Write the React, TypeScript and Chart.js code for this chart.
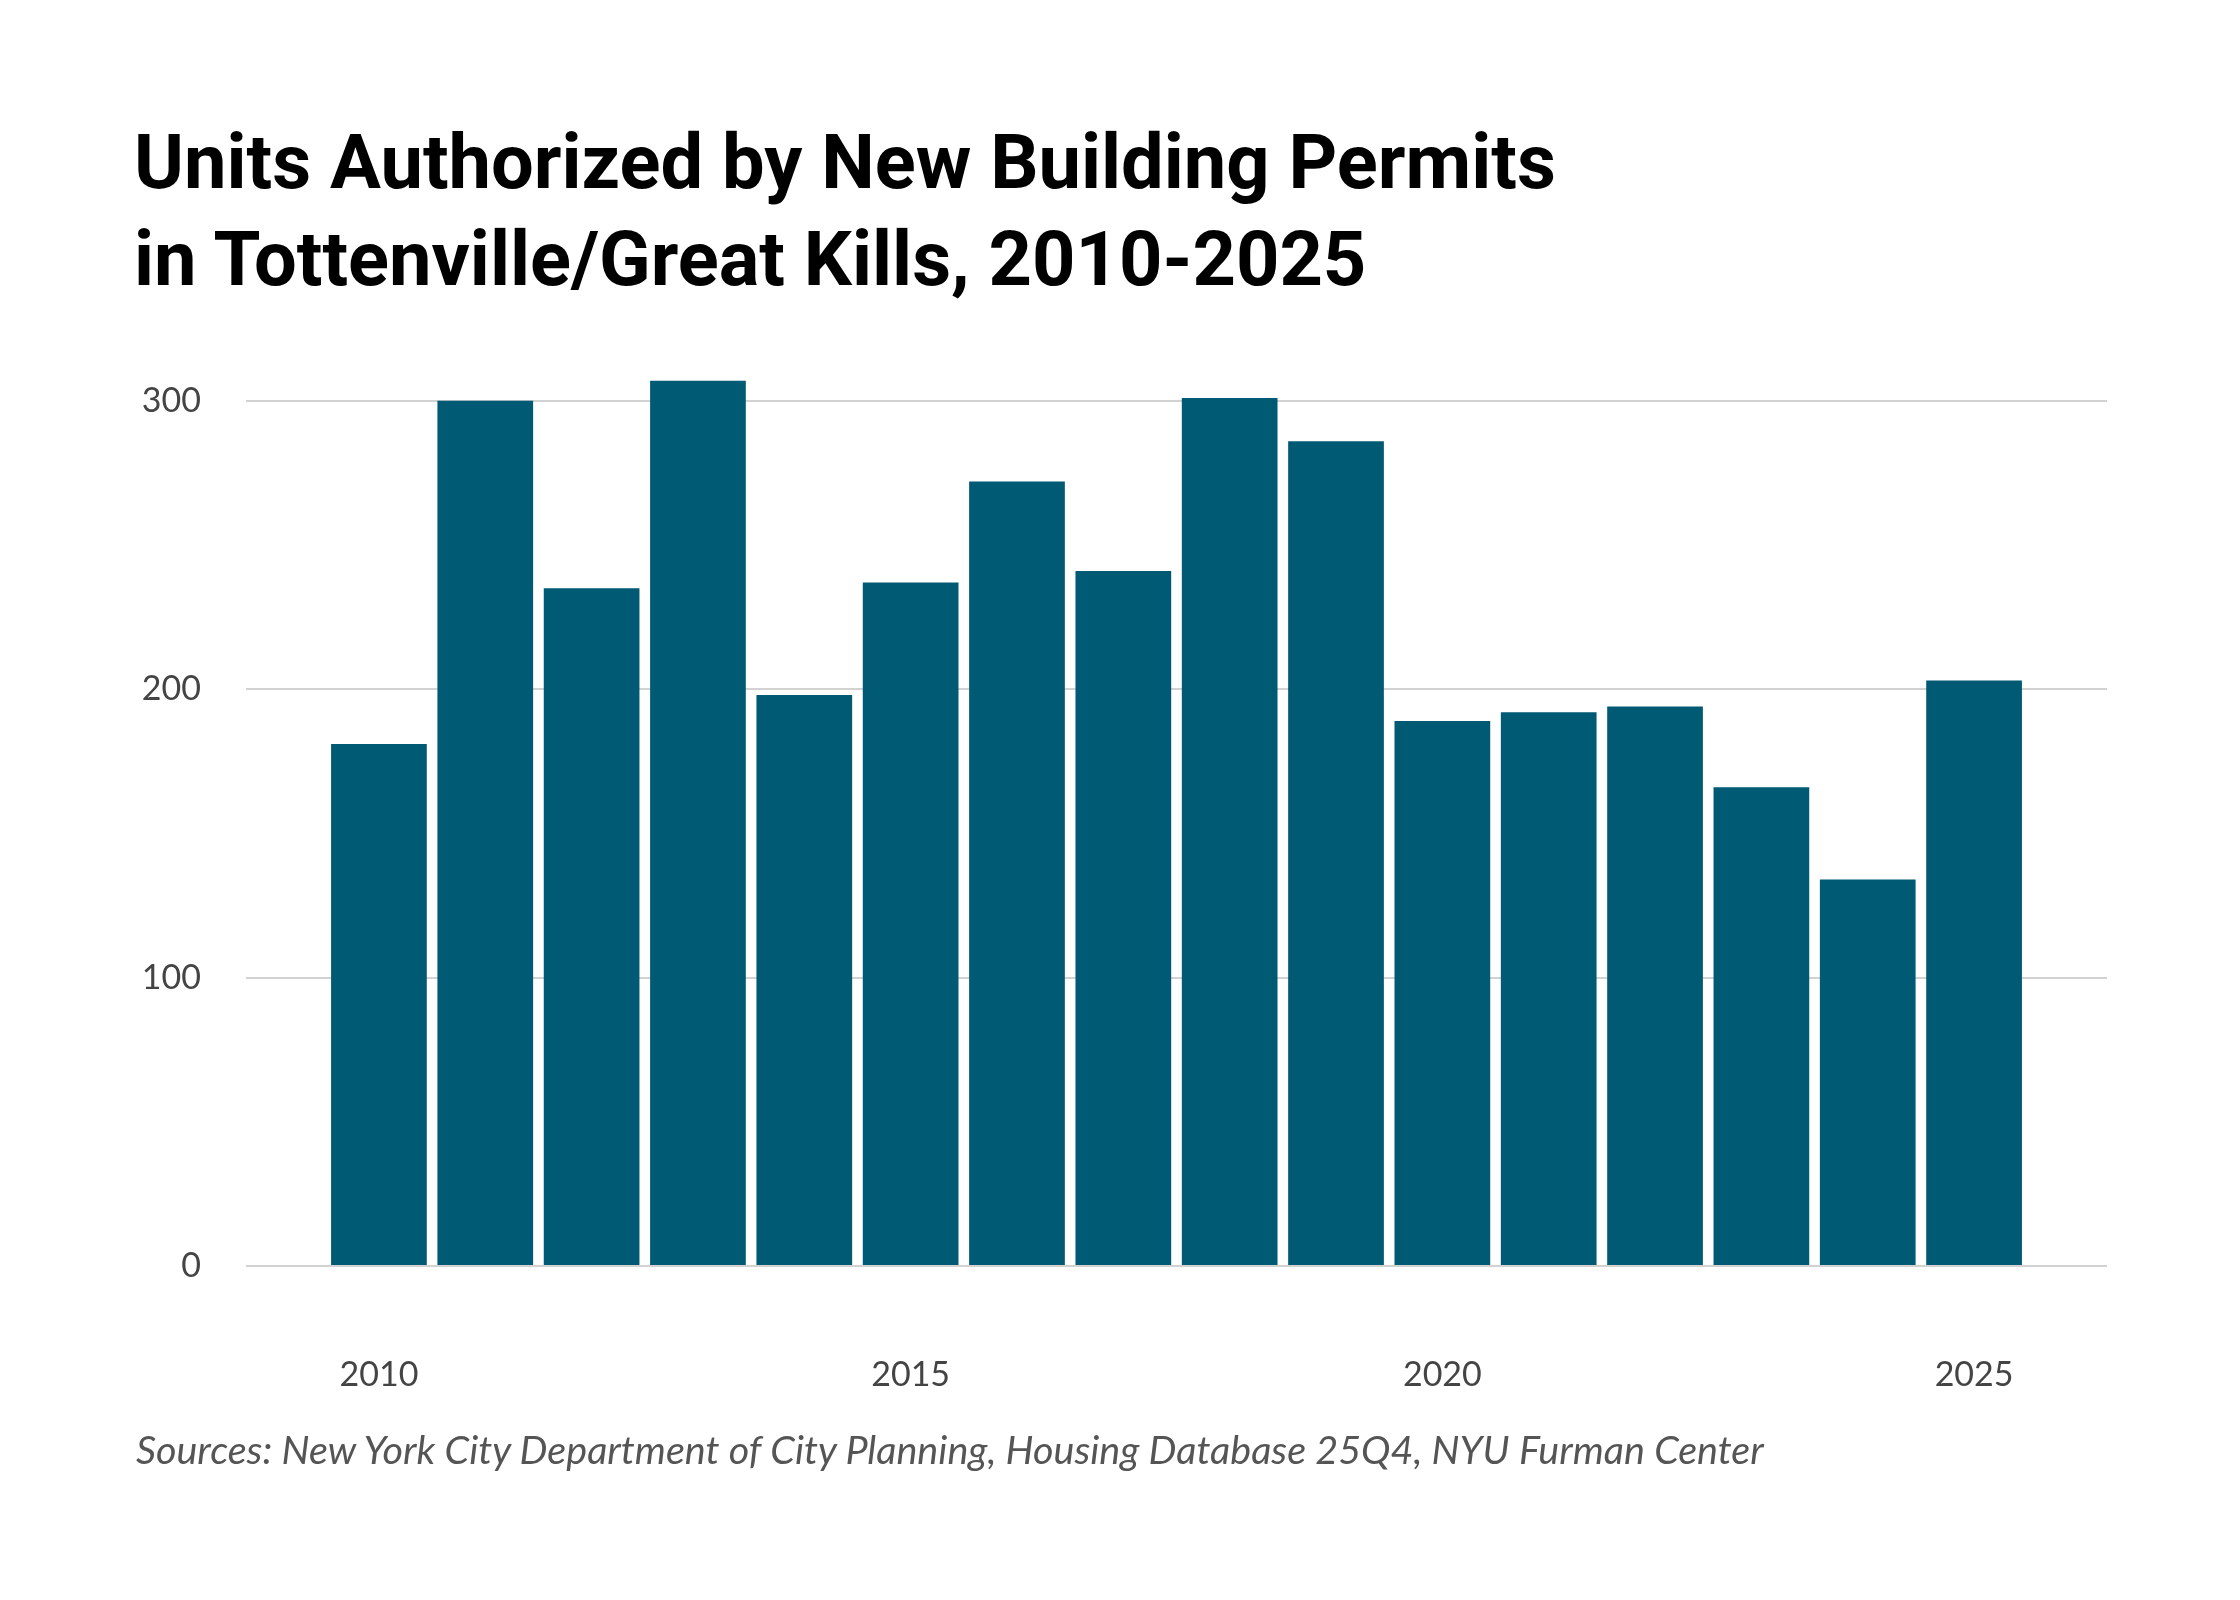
import React, { useEffect, useRef } from 'react';
import { Chart, registerables } from 'chart.js';

Chart.register(...registerables);

const years = [2010, 2011, 2012, 2013, 2014, 2015, 2016, 2017, 2018, 2019, 2020, 2021, 2022, 2023, 2024, 2025];
const units = [181, 300, 235, 307, 198, 237, 272, 241, 301, 286, 189, 192, 194, 166, 134, 203];
const xTickYears = [2010, 2015, 2020, 2025];
const yTickValues = [0, 100, 200, 300];
const titleLines = ['Units Authorized by New Building Permits', 'in Tottenville/Great Kills, 2010-2025'];
const sourceText = 'Sources: New York City Department of City Planning, Housing Database 25Q4, NYU Furman Center';

export default function App() {
  const canvasRef = useRef<HTMLCanvasElement | null>(null);

  useEffect(() => {
    document.body.style.margin = '0';
    const canvas = canvasRef.current;
    if (!canvas) return;
    const chart = new Chart(canvas, {
      type: 'bar',
      data: {
        datasets: [
          {
            data: years.map((y, i) => ({ x: y, y: units[i] })),
            backgroundColor: '#005a74',
            borderWidth: 0,
            barPercentage: 0.9,
            categoryPercentage: 1.0,
          },
        ],
      },
      options: {
        animation: false,
        responsive: false,
        maintainAspectRatio: false,
        devicePixelRatio: 1,
        layout: { padding: { top: 372, right: 133, left: 0, bottom: 0 } },
        plugins: {
          legend: { display: false },
          tooltip: { enabled: false },
          title: { display: false },
        },
        scales: {
          x: {
            type: 'linear',
            min: 2008.75,
            max: 2026.25,
            offset: false,
            grid: { display: false, drawTicks: false, offset: false },
            border: { display: false },
            afterBuildTicks: (scale: any) => {
              scale.ticks = xTickYears.map((v) => ({ value: v }));
            },
            afterFit: (scale: any) => {
              scale.height = 1600 - 1266;
            },
            ticks: {
              padding: 89,
              color: '#444444',
              font: { family: 'Lato', size: 34 },
              callback: (v: any) => String(v),
              maxRotation: 0,
              autoSkip: false,
            },
          },
          y: {
            min: 0,
            max: 310,
            grid: { color: '#d2d2d2', lineWidth: 2, drawTicks: false },
            border: { display: false },
            afterBuildTicks: (scale: any) => {
              scale.ticks = yTickValues.map((v) => ({ value: v }));
            },
            afterFit: (scale: any) => {
              scale.width = 246;
            },
            ticks: {
              padding: 45,
              crossAlign: 'near',
              color: '#444444',
              font: { family: 'Lato', size: 34 },
              callback: (v: any) => String(v),
            },
          },
        },
      },
    });
    return () => chart.destroy();
  }, []);

  return (
    <div style={{ position: 'relative', width: 2240, height: 1600, background: '#ffffff', overflow: 'hidden' }}>
      <div
        style={{
          position: 'absolute',
          left: 134,
          top: 114,
          fontFamily: 'Roboto, sans-serif',
          fontWeight: 700,
          fontSize: 75.8,
          lineHeight: '97px',
          color: '#000000',
          whiteSpace: 'nowrap',
        }}
      >
        {titleLines.map((t, i) => (
          <div key={i}>{t}</div>
        ))}
      </div>
      <canvas ref={canvasRef} width={2240} height={1600} style={{ position: 'absolute', left: 0, top: 0 }} />
      <div
        style={{
          position: 'absolute',
          left: 136,
          top: 1425,
          fontFamily: 'Lato, sans-serif',
          fontStyle: 'italic',
          fontWeight: 400,
          fontSize: 39.5,
          color: '#555555',
          whiteSpace: 'nowrap',
        }}
      >
        {sourceText}
      </div>
    </div>
  );
}
